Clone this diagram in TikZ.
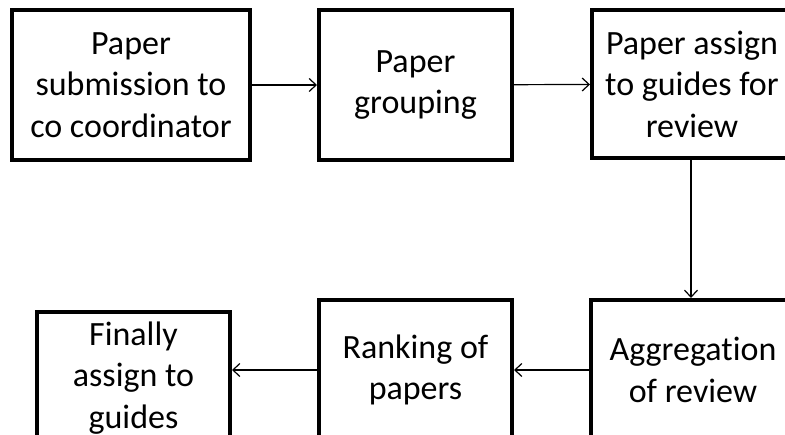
\documentclass[tikz,border=0pt]{standalone}
\usepackage{fontspec}
\setmainfont[Ligatures=NoCommon]{Carlito}
\usetikzlibrary{arrows.meta}
\begin{document}
\begin{tikzpicture}[x=1pt,y=-1pt,
  txt/.style={align=center,inner sep=0pt,font=\fontsize{34}{41.5}\selectfont},
  stepbox/.style={draw=black,line width=4pt,fill=white,inner sep=0pt,txt},
  conn/.style={draw=black,line width=1.2pt,-{Straight Barb[length=7pt,width=13pt,line width=1.2pt]}}]
\useasboundingbox (0,0) rectangle (785,435);
\node[stepbox,minimum width=238pt,minimum height=150pt] (b1) at (131,85) {Paper\\submission to\\co coordinator};
\node[stepbox,minimum width=193pt,minimum height=150pt] (b2) at (415.5,85) {Paper\\grouping};
\node[stepbox,minimum width=300pt,minimum height=148pt,
  label={[txt,xshift=-50pt]center:{Paper assign\\to guides for\\review}}] (b3) at (742,84) {};
\node[stepbox,minimum width=300pt,minimum height=140pt,
  label={[txt,xshift=-48pt]center:{Aggregation\\of review}}] (b4) at (741,370) {};
\node[stepbox,minimum width=193pt,minimum height=140pt] (b5) at (415.5,370) {Ranking of\\papers};
\node[stepbox,minimum width=193pt,minimum height=132pt] (b6) at (133.5,378) {Finally\\assign to\\guides};
\path (b3.south west) ++(101pt,0) coordinate (s3);
\draw[conn] (b1) -- (b2);
\draw[conn] (b2) -- (b3);
\draw[conn] (s3) -- (s3 |- b4.north);
\draw[conn] (b4) -- (b5);
\draw[conn] (b5.west) -- (b5.west -| b6.east);
\end{tikzpicture}
\end{document}
